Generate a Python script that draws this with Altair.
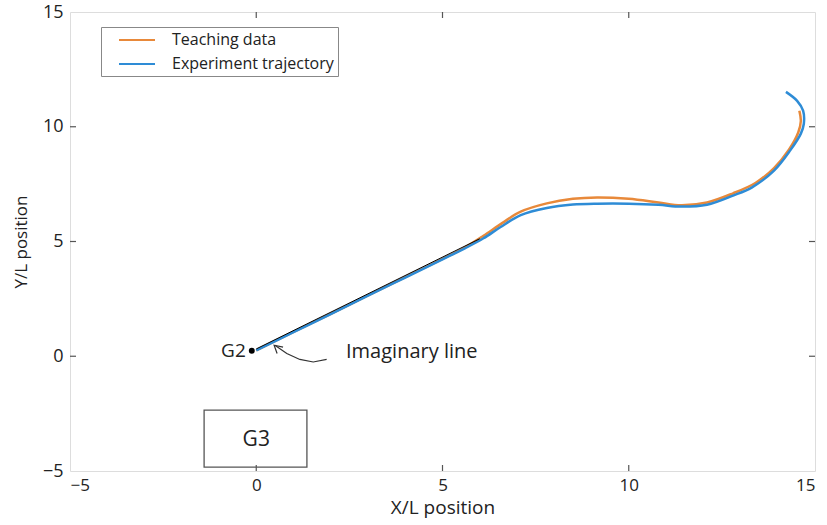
import altair as alt
import pandas as pd

# ---- data ----
teach_x = [0.0, 1.0, 2.0, 3.0, 4.0, 5.0, 5.6, 6.1, 6.6, 7.1, 7.8, 8.5, 9.15, 10.0, 10.8, 11.4,
           12.1, 12.8, 13.4, 13.9, 14.3, 14.55, 14.62, 14.58]
teach_y = [0.26, 1.06, 1.85, 2.65, 3.45, 4.24, 4.74, 5.25, 5.8, 6.3, 6.66, 6.86, 6.92, 6.86, 6.7, 6.58,
           6.7, 7.1, 7.55, 8.2, 9.0, 9.75, 10.25, 10.7]

exp_x = [0.0, 1.0, 2.0, 3.0, 4.0, 5.0, 5.6, 6.1, 6.55, 7.1, 7.8, 8.5, 9.15, 10.0, 10.8, 11.4,
         12.1, 12.8, 13.3, 13.9, 14.33, 14.62, 14.7, 14.68, 14.52, 14.22]
exp_y = [0.26, 1.05, 1.84, 2.64, 3.43, 4.22, 4.7, 5.14, 5.62, 6.15, 6.46, 6.61, 6.65, 6.65, 6.6, 6.52,
         6.6, 7.0, 7.35, 8.09, 8.96, 9.7, 10.13, 10.7, 11.13, 11.52]

imag_x = [0.0, 6.0]
imag_y = [0.32, 5.12]

g2_x, g2_y = [-0.12], [0.24]
g3_box = {"x": [-1.4], "x2": [1.36], "y": [-4.83], "y2": [-2.35]}
g3_label = {"x": [0.0], "y": [-3.65], "text": ["G3"]}

arrow_part = ["curve"] * 5 + ["head"] * 3
arrow_x = [1.89, 1.53, 1.17, 0.82, 0.50, 0.72, 0.48, 0.56]
arrow_y = [-0.14, -0.25, -0.14, 0.12, 0.48, 0.40, 0.48, 0.12]

tick_vals = [0, 5, 10]

series = ["Teaching data", "Experiment trajectory"]
colors = ["#E8893A", "#2E8CD6"]

W, H = 745, 459
FONT = "Open Sans"

xs = alt.Scale(domain=[-5, 15], nice=False, zero=False)
ys = alt.Scale(domain=[-5, 15], nice=False, zero=False)
cscale = alt.Scale(domain=series, range=colors)

teach_df = pd.DataFrame({"x": teach_x, "y": teach_y, "o": range(len(teach_x)), "s": series[0]})
exp_df = pd.DataFrame({"x": exp_x, "y": exp_y, "o": range(len(exp_x)), "s": series[1]})

xax = alt.Axis(values=[-5, 0, 5, 10, 15], title="X/L position", ticks=False, domain=False, grid=False,
               labelFontSize=17, titleFontSize=19, labelPadding=6, titlePadding=5, titleFontWeight="normal",
               labelColor="#222", titleColor="#222")
yax = alt.Axis(values=[-5, 0, 5, 10, 15], title="Y/L position", ticks=False, domain=False, grid=False,
               labelFontSize=18, titleFontSize=17, labelPadding=7, titlePadding=12, titleFontWeight="normal",
               labelColor="#222", titleColor="#222")

legend = alt.Legend(title=None, orient="none", legendX=31, legendY=15, strokeColor="#888",
                    fillColor="white", padding=4, symbolType="M0.625,0H5.125", symbolSize=256,
                    symbolStrokeWidth=2, labelFontSize=16, labelOffset=49, rowPadding=7,
                    labelLimit=400, labelColor="#222", labelFont=FONT)

teach = alt.Chart(teach_df).mark_line(strokeWidth=2.5, interpolate="catmull-rom").encode(
    x=alt.X("x:Q", scale=xs, axis=xax),
    y=alt.Y("y:Q", scale=ys, axis=yax),
    order="o:Q",
    color=alt.Color("s:N", scale=cscale, legend=legend),
)
exper = alt.Chart(exp_df).mark_line(strokeWidth=2.5, interpolate="catmull-rom").encode(
    x=alt.X("x:Q", scale=xs), y=alt.Y("y:Q", scale=ys), order="o:Q",
    color=alt.Color("s:N", scale=cscale, legend=legend),
)

imag = alt.Chart(pd.DataFrame({"x": imag_x, "y": imag_y})).mark_line(color="black", strokeWidth=1).encode(
    x=alt.X("x:Q", scale=xs), y=alt.Y("y:Q", scale=ys))

g2dot = alt.Chart(pd.DataFrame({"x": g2_x, "y": g2_y})).mark_point(filled=True, color="black", size=35, opacity=1).encode(
    x=alt.X("x:Q", scale=xs), y=alt.Y("y:Q", scale=ys))
g2txt = alt.Chart(pd.DataFrame({"x": g2_x, "y": g2_y, "t": ["G2"]})).mark_text(
    align="right", baseline="middle", dx=-6, fontSize=19, font=FONT, color="#222").encode(
    x=alt.X("x:Q", scale=xs), y=alt.Y("y:Q", scale=ys), text="t:N")

imag_txt = alt.Chart(pd.DataFrame({"x": [2.41], "y": [0.17], "t": ["Imaginary line"]})).mark_text(
    align="left", baseline="middle", fontSize=20, font=FONT, color="#222").encode(
    x=alt.X("x:Q", scale=xs), y=alt.Y("y:Q", scale=ys), text="t:N")

arrow_df = pd.DataFrame({"x": arrow_x, "y": arrow_y, "part": arrow_part, "o": range(len(arrow_x))})
arrow = alt.Chart(arrow_df).mark_line(color="#333", strokeWidth=1.2, interpolate="linear").encode(
    x=alt.X("x:Q", scale=xs), y=alt.Y("y:Q", scale=ys), detail="part:N", order="o:Q")

g3 = alt.Chart(pd.DataFrame(g3_box)).mark_rect(fill="white", stroke="#555", strokeWidth=1.3).encode(
    x=alt.X("x:Q", scale=xs), x2="x2:Q", y=alt.Y("y:Q", scale=ys), y2="y2:Q")
g3t = alt.Chart(pd.DataFrame(g3_label)).mark_text(fontSize=21, font=FONT, color="#222").encode(
    x=alt.X("x:Q", scale=xs), y=alt.Y("y:Q", scale=ys), text="text:N")

tdf = pd.DataFrame({"t": tick_vals})
tick_style = dict(color="#555", strokeWidth=1.2)
tb = alt.Chart(tdf).mark_rule(**tick_style).encode(x=alt.X("t:Q", scale=xs), y=alt.value(H), y2=alt.value(H - 6))
tt = alt.Chart(tdf).mark_rule(**tick_style).encode(x=alt.X("t:Q", scale=xs), y=alt.value(0), y2=alt.value(6))
tl = alt.Chart(tdf).mark_rule(**tick_style).encode(y=alt.Y("t:Q", scale=ys), x=alt.value(0), x2=alt.value(6))
tr = alt.Chart(tdf).mark_rule(**tick_style).encode(y=alt.Y("t:Q", scale=ys), x=alt.value(W), x2=alt.value(W - 6))

chart = alt.layer(
    g3, g3t, teach, exper, imag, g2dot, g2txt, arrow, imag_txt, tb, tt, tl, tr
).properties(
    width=W, height=H,
    autosize=alt.AutoSizeParams(type="none"),
    padding={"left": 70, "top": 12, "right": 12, "bottom": 54},
).configure_view(
    stroke="#555", strokeWidth=1.5
).configure(font=FONT, background="white")

chart.save("out.html", embed_options={"renderer": "svg", "actions": False})
